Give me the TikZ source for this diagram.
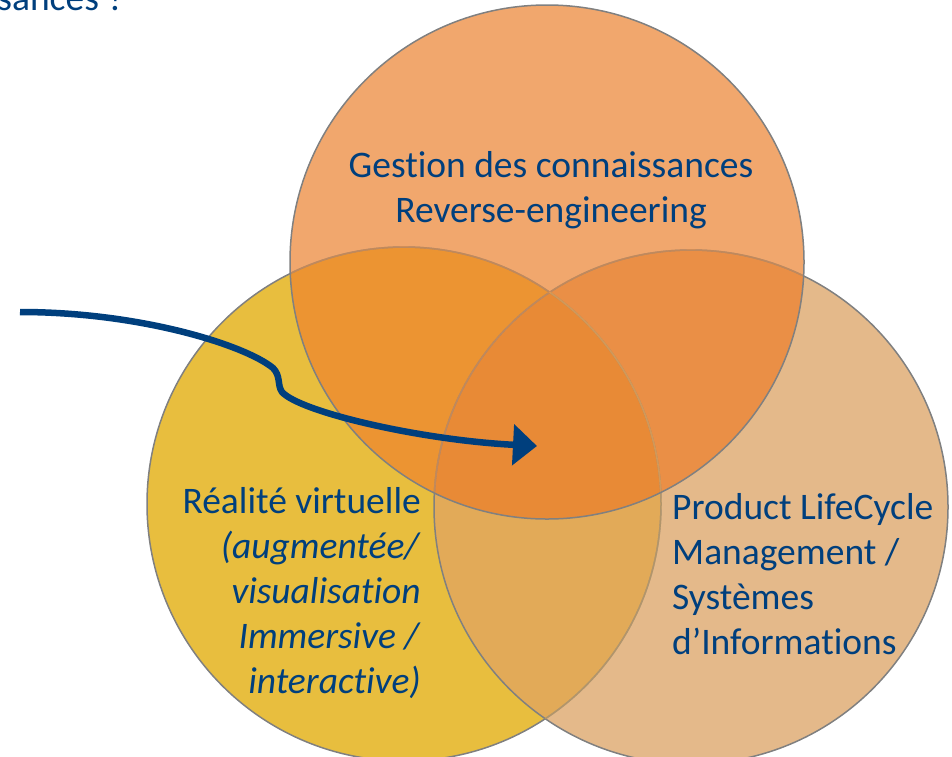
\documentclass[tikz,border=0pt]{standalone}
\usepackage{fontspec}
\setmainfont{Carlito}[Ligatures={NoCommon,NoContextual}]
\usetikzlibrary{arrows.meta}

\definecolor{txtblue}{RGB}{0,63,125}
\definecolor{topfill}{RGB}{241,167,109}
\definecolor{leftfill}{RGB}{232,190,62}
\definecolor{rightfill}{RGB}{228,185,138}
\definecolor{topleft}{RGB}{236,148,50}
\definecolor{topright}{RGB}{234,143,70}
\definecolor{leftright}{RGB}{226,170,88}
\definecolor{core}{RGB}{232,138,54}
\definecolor{rim}{RGB}{128,128,128}

\tikzset{
    label/.style={text=txtblue, inner sep=0pt, font=\fontsize{37.5}{45}\selectfont},
}

\begin{document}
\begin{tikzpicture}[x=1pt,y=-1pt]

    \useasboundingbox (0,0) rectangle (952,756);
    \clip (0,0) rectangle (952,756);

    \def\circleTop{(547,262) circle (257pt)};
    \def\circleLeft{(404,504) circle (257pt)};
    \def\circleRight{(691,507) circle (257pt)};

    \fill[leftfill] \circleLeft;
    \fill[rightfill] \circleRight;
    \fill[topfill] \circleTop;

    \begin{scope}
        \clip \circleLeft;
        \fill[leftright] \circleRight;
    \end{scope}
    \begin{scope}
        \clip \circleTop;
        \fill[topleft] \circleLeft;
        \fill[topright] \circleRight;
    \end{scope}
    \begin{scope}
        \clip \circleTop;
        \clip \circleLeft;
        \fill[core] \circleRight;
    \end{scope}

    \draw[rim, line width=1.5pt] \circleLeft;
    \draw[rim, line width=1.5pt] \circleRight;
    % softer rims under the top circle
    \begin{scope}
        \clip \circleTop;
        \draw[topright, line width=1.6pt, opacity=.6] \circleLeft;
        \draw[topright, line width=1.6pt, opacity=.6] \circleRight;
    \end{scope}
    \begin{scope}
        \clip \circleRight;
        \draw[leftright, line width=1.6pt, opacity=.5] \circleLeft;
    \end{scope}
    \draw[rim, line width=1.5pt] \circleTop;

    \node[label, anchor=base east] (title) at (125,10) {ssances ?};

    \node[label, align=center] (knowledge) at (551,190)
        {Gestion des connaissances\\Reverse-engineering};
    \node[label, align=right, anchor=east] (vr) at (421,593)
        {Réalité virtuelle\\\textit{(augmentée/}\\\textit{visualisation}\\\textit{Immersive /}\\\textit{interactive)}};
    \node[label, align=left, anchor=west] (plm) at (672,574)
        {Product LifeCycle\\Management /\\Systèmes\\d’Informations};

    \coordinate (from) at (20,312);
    \coordinate (bend) at (273,368);
    \coordinate (dip) at (282,392);
    \coordinate (centre) at (537,446);

    \draw[txtblue, line width=6.5pt, -{Triangle[length=24pt,width=40pt]}]
        (from) .. controls (140,312) and (245,345) .. (bend)
        .. controls (281,376) and (277,385) .. (dip)
        .. controls (300,412) and (420,440) .. (centre);

\end{tikzpicture}
\end{document}
